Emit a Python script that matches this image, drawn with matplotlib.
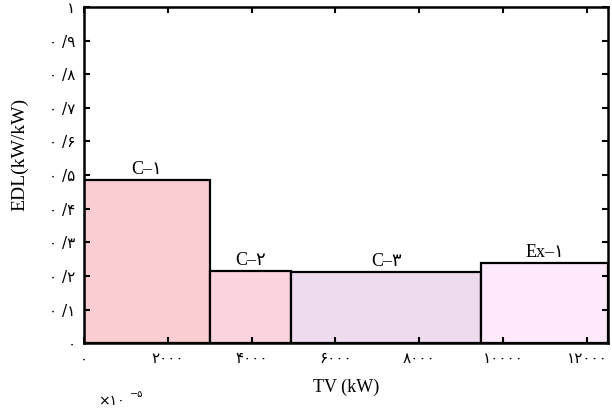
import matplotlib
matplotlib.use('Agg')
import matplotlib.pyplot as plt
import matplotlib.transforms as mtrans

fa = str.maketrans('0123456789', '۰۱۲۳۴۵۶۷۸۹')

# technology blocks: start of TV, width of TV, EDL
names = ['C–۱', 'C–۲', 'C–۳', 'Ex–۱']
tv_start = [0, 3000, 4950, 9480]
tv_width = [3000, 1950, 4530, 3020]
edl = [0.485, 0.214, 0.211, 0.238]
colors = ['#f9cdd1', '#fbd4df', '#eedbee', '#fde9fa']

xticks = [0, 2000, 4000, 6000, 8000, 10000, 12000]
yticks = [0, 0.1, 0.2, 0.3, 0.4, 0.5, 0.6, 0.7, 0.8, 0.9, 1.0]

serif = ['Liberation Serif', 'DejaVu Sans']
digits = ['DejaVu Sans']

fig = plt.figure(figsize=(6.12, 4.09), dpi=100)
ax = fig.add_axes([0.137, 0.161, 0.8565, 0.822])

for s, w, h, c, n in zip(tv_start, tv_width, edl, colors, names):
    ax.bar(s, h, width=w, align='edge', color=c, edgecolor='black', linewidth=1.6)
    ax.text(s + w / 2, h + 0.006, n, ha='center', va='bottom', fontsize=13, family=serif)

ax.set_xlim(0, 12500)
ax.set_ylim(0, 1)

ax.set_xticks(xticks)
ax.set_xticklabels([str(v).translate(fa) for v in xticks], family=digits, fontsize=11)
ylabs = []
for v in yticks:
    if v == 0:
        ylabs.append('۰')
    elif v == 1:
        ylabs.append('۱')
    else:
        ylabs.append('۰ /' + str(int(round(v * 10))).translate(fa))
ax.set_yticks(yticks)
ax.set_yticklabels(ylabs, family=digits, fontsize=11)

off = mtrans.ScaledTranslation(9 / 100, 0, fig.dpi_scale_trans)
for lab in ax.get_xticklabels():
    lab.set_transform(lab.get_transform() + off)

ax.tick_params(direction='in', top=True, right=True, length=4, width=1.5, pad=6)
for sp in ax.spines.values():
    sp.set_linewidth(1.8)

ax.set_xlabel('TV (kW)', family=serif, fontsize=13)
ax.xaxis.set_label_coords(0.5, -0.105)
ax.set_ylabel('EDL(kW/kW)', family=serif, fontsize=14)
ax.yaxis.set_label_coords(-0.105, 0.56)

fig.text(0.16, 0.003, '×۱۰', family=digits, fontsize=10, ha='left', va='bottom')
fig.text(0.212, 0.025, '−۵', family=digits, fontsize=7, ha='left', va='bottom')

plt.savefig('out.png', dpi=100)
